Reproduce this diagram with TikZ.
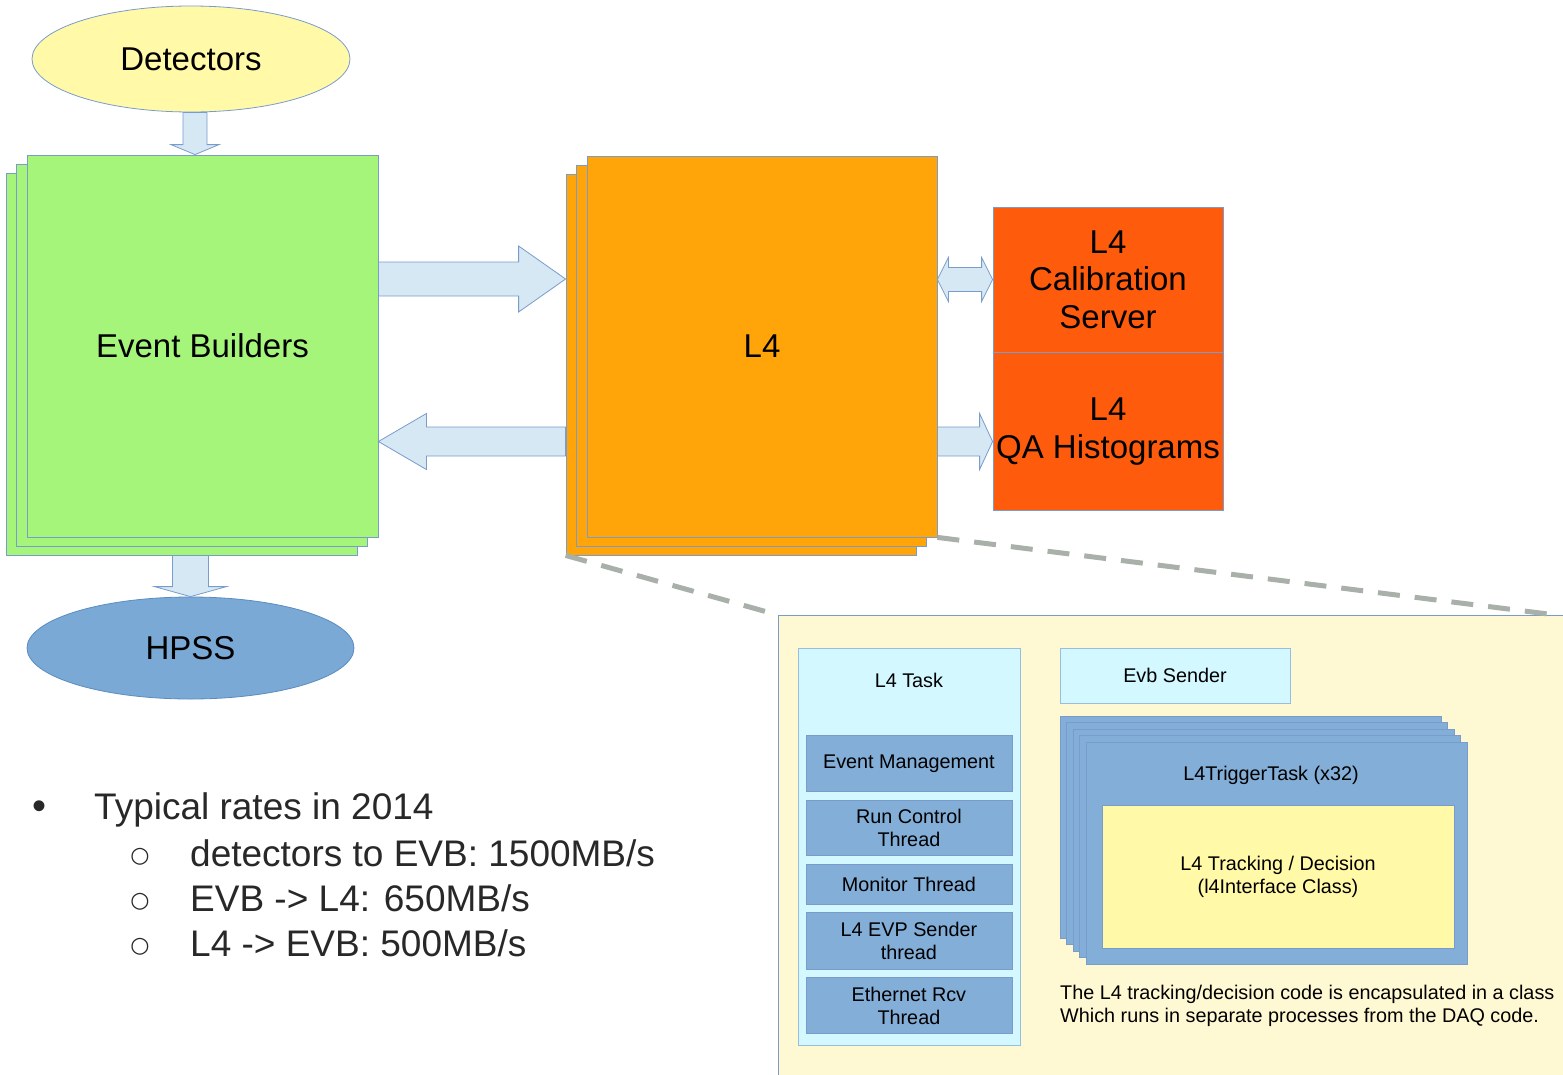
\documentclass[tikz,border=0pt]{standalone}
\usepackage{fontspec}
\setmainfont{Liberation Sans}
\newfontfamily\symfont{DejaVu Sans}
\usetikzlibrary{positioning,shapes.geometric,shadows}

\definecolor{edge}{RGB}{122,156,204}
\definecolor{detfill}{RGB}{255,249,168}
\definecolor{evbgreen}{RGB}{165,245,122}
\definecolor{l4orange}{RGB}{255,165,10}
\definecolor{calred}{RGB}{255,91,12}
\definecolor{hpssblue}{RGB}{121,169,212}
\definecolor{hpssedge}{RGB}{92,140,195}
\definecolor{arrowfill}{RGB}{213,232,244}
\definecolor{panelfill}{RGB}{255,249,211}
\definecolor{taskfill}{RGB}{211,248,255}
\definecolor{taskedge}{RGB}{150,190,225}
\definecolor{innerblue}{RGB}{130,174,216}
\definecolor{trackyellow}{RGB}{255,249,168}
\definecolor{dashgray}{RGB}{168,176,169}
\definecolor{ratetext}{RGB}{40,40,40}

\newcommand{\labelfont}{\fontsize{33}{37.5}\selectfont}
\newcommand{\ratefont}{\fontsize{37}{45}\selectfont}
\newcommand{\smallfont}{\fontsize{19.8}{23}\selectfont}

\newcommand{\hblock}[5]{%
  \draw[blk] ([yshift=#3]#1) -- ([xshift=#5,yshift=#3]#2) -- ([xshift=#5,yshift=#4]#2)
    -- (#2) -- ([xshift=#5,yshift=-#4]#2) -- ([xshift=#5,yshift=-#3]#2)
    -- ([yshift=-#3]#1) -- cycle;}
\newcommand{\vblock}[5]{%
  \draw[blk] ([xshift=-#3]#1) -- ([xshift=-#3,yshift=#5]#2) -- ([xshift=-#4,yshift=#5]#2)
    -- (#2) -- ([xshift=#4,yshift=#5]#2) -- ([xshift=#3,yshift=#5]#2)
    -- ([xshift=#3]#1) -- cycle;}

\begin{document}
\begin{tikzpicture}[x=1pt, y=-1pt,
    box/.style={draw=edge, line width=0.8pt, inner sep=0pt, align=center},
    oval/.style={ellipse, draw=edge, line width=0.8pt, font=\labelfont},
    stacktwo/.style={copy shadow={shadow xshift=-21pt, shadow yshift=-18pt},
      copy shadow={shadow xshift=-10.5pt, shadow yshift=-9pt}},
    stackfour/.style={copy shadow={shadow xshift=-26pt, shadow yshift=26pt},
      copy shadow={shadow xshift=-19.5pt, shadow yshift=19.5pt},
      copy shadow={shadow xshift=-13pt, shadow yshift=13pt},
      copy shadow={shadow xshift=-6.5pt, shadow yshift=6.5pt}},
    blk/.style={fill=arrowfill, draw=edge, line width=0.8pt},
    thread/.style={box, fill=innerblue, font=\smallfont, minimum width=206pt},
    zoomline/.style={draw=dashgray, line width=5pt, dash pattern=on 22pt off 15pt},
    rate/.style={font=\ratefont, text=ratetext, inner sep=0pt}]
  \useasboundingbox (0,0) rectangle (1563,1074);
  \fill[white] (0,0) rectangle (1563,1074);

  \node[oval, fill=detfill, minimum width=318pt, minimum height=106pt] (det) at (191,59) {Detectors};
  \node[box, fill=evbgreen, stacktwo, font=\labelfont, minimum width=351pt, minimum height=382pt] (evb) at (202.5,346) {Event Builders};
  \node[box, fill=l4orange, stacktwo, font=\labelfont, minimum width=350pt, minimum height=381pt] (l4) at (762,346.5) {L4};
  \node[box, fill=calred, font=\labelfont, minimum width=230pt, minimum height=145pt] (cal) at (1108,279.5) {L4\\Calibration\\Server};
  \node[box, fill=calred, font=\labelfont, minimum width=230pt, minimum height=158pt, below=0pt of cal] (qa) {L4\\QA Histograms};
  \node[oval, fill=hpssblue, draw=hpssedge, minimum width=327pt, minimum height=102pt] (hpss) at (190.5,648) {HPSS};

  \coordinate (d1) at ([xshift=4pt]det.south);
  \coordinate (d2) at (d1 |- evb.north);
  \vblock{d1}{d2}{12pt}{24pt}{10pt}
  \coordinate (l4back) at ([xshift=-21pt,yshift=-18pt]l4.south west);
  \coordinate (r1) at (evb.east |- 0,279);
  \coordinate (r2) at (l4back |- r1);
  \hblock{r1}{r2}{17pt}{33pt}{-47pt}
  \coordinate (l1) at (l4back |- 0,441.5);
  \coordinate (l2) at (evb.east |- l1);
  \hblock{l1}{l2}{14.5pt}{28pt}{48pt}
  \coordinate (q1) at (l4.east |- l1);
  \coordinate (q2) at (qa.west |- l1);
  \hblock{q1}{q2}{14.5pt}{28pt}{-13pt}
  \coordinate (c1) at (l4.east |- cal.west);
  \draw[blk] (c1) -- ([xshift=11pt,yshift=22pt]c1) -- ([xshift=11pt,yshift=12pt]c1)
    -- ([xshift=-11pt,yshift=12pt]cal.west) -- ([xshift=-11pt,yshift=22pt]cal.west) -- (cal.west)
    -- ([xshift=-11pt,yshift=-22pt]cal.west) -- ([xshift=-11pt,yshift=-12pt]cal.west)
    -- ([xshift=11pt,yshift=-12pt]c1) -- ([xshift=11pt,yshift=-22pt]c1) -- cycle;
  \coordinate (evbback) at ([yshift=-18pt]evb.south);
  \coordinate (h1) at (evbback -| hpss.north);
  \vblock{h1}{hpss.north}{18pt}{36pt}{10pt}

  \node[box, fill=panelfill, anchor=north west, minimum width=800pt, minimum height=470pt] (panel) at (778,615) {};
  \coordinate (zoomR) at (1556,615);
  \draw[zoomline] (l4back) -- (panel.north west);
  \draw[zoomline] (l4.south east) -- (zoomR);

  \node[box, fill=taskfill, draw=taskedge, anchor=north west, minimum width=222pt, minimum height=397pt] (task) at (797.5,647.5) {};
  \node[font=\smallfont] (tasktitle) at (task.north |- 0,680) {L4 Task};
  \node[thread, minimum height=56pt, anchor=north] (evm) at (task.north |- 0,735) {Event Management};
  \node[thread, minimum height=55pt, below=8pt of evm] (runctl) {Run Control\\Thread};
  \node[thread, minimum height=40pt, below=8pt of runctl] (mon) {Monitor Thread};
  \node[thread, minimum height=57pt, below=8pt of mon] (evp) {L4 EVP Sender\\thread};
  \node[thread, minimum height=56pt, below=7pt of evp] (eth) {Ethernet Rcv\\Thread};

  \node[box, fill=taskfill, draw=taskedge, font=\smallfont, minimum width=230pt, minimum height=55pt] (evbsend) at (1175,675.5) {Evb Sender};
  \node[box, fill=innerblue, stackfour, minimum width=381pt, minimum height=222pt] (trig) at (1276.5,853) {};
  \node[font=\smallfont] (trigtitle) at (1271,775) {L4TriggerTask (x32)};
  \node[box, fill=trackyellow, font=\smallfont, minimum width=352pt, minimum height=143pt] (track) at (1278,876.5) {L4 Tracking / Decision\\(l4Interface Class)};
  \node[font=\smallfont, align=left, anchor=west, inner sep=0pt] (note) at (1060,1005.5) {The L4 tracking/decision code is encapsulated in a class\\Which runs in separate processes from the DAQ code.};

  \node[rate, anchor=west] (rates) at (94,810) {Typical rates in 2014};
  \node[rate, font=\fontsize{40}{44}\selectfont] (dot) at (40,810) {\textbullet};
  \foreach \txt [count=\i] in {detectors to EVB: 1500MB/s, EVB -> L4: 650MB/s, L4 -> EVB: 500MB/s} {
    \node[rate, anchor=west] (rate\i) at (190,808+45*\i) {\txt};
    \node[rate, font=\symfont\fontsize{22}{26}\selectfont] (ring\i) at (140,812+45*\i) {○};
  }
\end{tikzpicture}
\end{document}
